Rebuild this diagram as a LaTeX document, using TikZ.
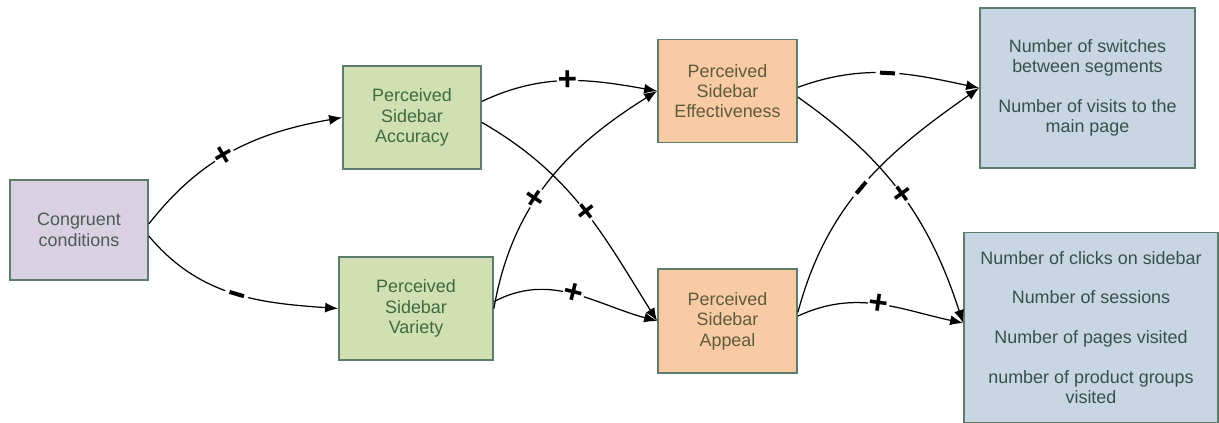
\documentclass[tikz,border=0pt]{standalone}
\usepackage{fontspec}
\setmainfont{Liberation Sans}
\usetikzlibrary{arrows.meta}

\definecolor{congfill}{HTML}{D9D0E2}
\definecolor{greenfill}{HTML}{D0E0B3}
\definecolor{orangefill}{HTML}{F9CBA4}
\definecolor{bluefill}{HTML}{C8D5E2}
\definecolor{boxline}{HTML}{5E7C6C}
\definecolor{greentext}{HTML}{3F6A3F}
\definecolor{orangetext}{HTML}{5F5A3C}
\definecolor{bluetext}{HTML}{38504A}
\definecolor{congtext}{HTML}{4D5A55}

\begin{document}
\begin{tikzpicture}[>={Latex[length=2.6mm,width=2mm]},
	box/.style={draw=boxline, line width=1pt, align=center,
		minimum width=2.76cm, minimum height=2.06cm,
		font=\fontsize{10.2}{11.6}\selectfont},
	congbox/.style={box, fill=congfill, text=congtext},
	greenbox/.style={box, fill=greenfill, text=greentext},
	orangebox/.style={box, fill=orangefill, text=orangetext},
	bluebox/.style={box, fill=bluefill, text=bluetext},
	link/.style={->, line width=0.7pt},
	plusmark/.style={sloped, fill=white, inner sep=0.5pt,
		font=\fontsize{19}{19}\selectfont\bfseries},
	minusmark/.style={sloped, fill=white, inner sep=2.5pt}]

	\useasboundingbox (0,0) rectangle (24.38,-8.46);

	% boxes
	\draw (1.58,-4.60) node[congbox, minimum height=2.0cm](cong){Congruent\\conditions};
	\draw (8.24,-2.35) node[greenbox](acc){Perceived\\Sidebar\\Accuracy};
	\draw (8.32,-6.17) node[greenbox, minimum width=3.08cm](var){Perceived\\Sidebar\\Variety};
	\draw (14.55,-1.82) node[orangebox, minimum width=2.78cm](eff){Perceived\\Sidebar\\Effectiveness};
	\draw (14.55,-6.42) node[orangebox, minimum width=2.78cm,
					 minimum height=2.08cm](app){Perceived\\Sidebar\\Appeal};
	\draw (21.75,-1.76) node[bluebox, minimum width=4.3cm,
					 minimum height=3.2cm](out1){Number of switches\\between segments\\[11pt]
					 Number of visits to the\\main page};
	\draw (21.82,-6.55) node[bluebox, minimum width=5.08cm,
					 minimum height=3.8cm](out2){Number of clicks on sidebar\\[11pt]
					 Number of sessions\\[11pt]
					 Number of pages visited\\[11pt]
					 number of product groups\\visited};

	% links
	\draw [link](cong.5) to[out=52, in=190]
		node[pos=0.45, plusmark]{+} (acc.west);
	\draw [link](cong.-5) to[out=-50, in=176]
		node[pos=0.52, minusmark]{\rule{0.3cm}{0.08cm}} (var.west);

	\draw [link](acc.13) to[out=25, in=170]
		node[pos=0.5, plusmark]{+} (eff.west);
	\draw [link](acc.-4) to[out=-30, in=122]
		node[pos=0.52, plusmark]{+} (app.west);
	\draw [link](var.east) to[out=80, in=212]
		node[pos=0.42, plusmark]{+} (eff.west);
	\draw [link](var.5) to[out=28, in=165]
		node[pos=0.5, plusmark]{+} (app.west);

	\draw [link](eff.3) to[out=20, in=168]
		node[pos=0.5, minusmark]{\rule{0.3cm}{0.08cm}} (out1.west);
	\draw [link](eff.-5) to[out=-35, in=108]
		node[pos=0.5, plusmark]{+} (out2.178);
	\draw [link](app.7) to[out=75, in=215]
		node[pos=0.48, minusmark]{\rule{0.3cm}{0.08cm}} (out1.west);
	\draw [link](app.4) to[out=25, in=168]
		node[pos=0.5, plusmark]{+} (out2.178);
\end{tikzpicture}
\end{document}
